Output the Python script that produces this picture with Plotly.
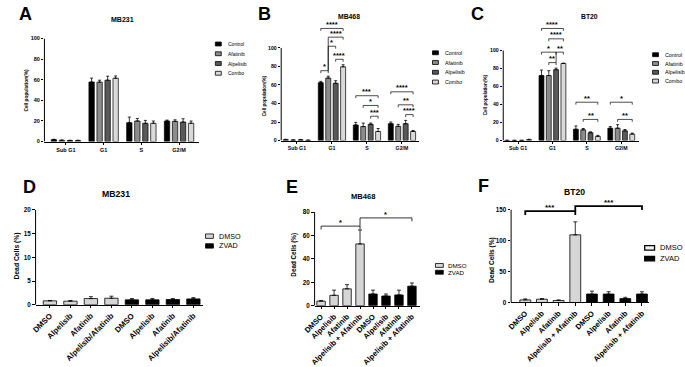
import plotly.graph_objects as go

W, H = 685, 367
FONT = "Liberation Sans, Arial, sans-serif"

# ---------------- data ----------------
phases = ["Sub G1", "G1", "S", "G2/M"]
treatments = ["Control", "Afatinib", "Alpelisib", "Combo"]

# Panel A - MB231 cell cycle
a_control = [1.8, 57.7, 18.3, 19.9]
a_control_err = [0.4, 3.8, 5.4, 0.9]
a_afatinib = [1.2, 57.6, 19.9, 19.6]
a_afatinib_err = [0.3, 1.9, 2.5, 1.5]
a_alpelisib = [1.0, 59.5, 17.7, 18.9]
a_alpelisib_err = [0.3, 3.9, 2.8, 3.2]
a_combo = [1.0, 61.4, 17.7, 17.7]
a_combo_err = [0.3, 2.2, 2.2, 2.2]

# Panel B - MB468 cell cycle
b_control = [1.0, 62.5, 16.8, 18.2]
b_control_err = [0.4, 1.4, 2.8, 1.8]
b_afatinib = [0.5, 67.4, 15.1, 15.4]
b_afatinib_err = [0.3, 2.1, 3.8, 2.1]
b_alpelisib = [0.8, 61.8, 17.5, 18.2]
b_alpelisib_err = [0.3, 2.8, 1.4, 3.6]
b_combo = [0.3, 79.6, 9.8, 9.8]
b_combo_err = [0.2, 2.2, 3.2, 1.1]
b_sig_group = [1, 1, 1, 1, 1, 2, 2, 2, 3, 3, 3]
b_sig_from = [0, 1, 2, 1, 0, 0, 1, 2, 0, 1, 2]
b_sig_to = [1, 2, 3, 3, 3, 3, 3, 3, 3, 3, 3]
b_sig_y = [75.4, 101.8, 87.7, 111.6, 121.0, 48.4, 37.9, 26.3, 52.6, 38.6, 28.0]
b_sig_label = ["*", "*", "****", "****", "****", "***", "*", "***", "****", "**", "****"]

# Panel C - BT20 cell cycle
c_control = [0.2, 72.2, 12.6, 13.7]
c_control_err = [0.1, 6.1, 3.6, 1.8]
c_afatinib = [0.2, 72.2, 11.9, 13.7]
c_afatinib_err = [0.1, 5.4, 1.5, 4.0]
c_alpelisib = [0.2, 78.7, 8.7, 10.8]
c_alpelisib_err = [0.1, 1.8, 1.0, 1.5]
c_combo = [1.0, 85.6, 4.7, 7.2]
c_combo_err = [0.4, 0.4, 1.1, 1.1]
c_sig_group = [1, 1, 1, 1, 1, 2, 2, 3, 3]
c_sig_from = [1, 0, 2, 1, 0, 0, 1, 0, 1]
c_sig_to = [2, 2, 3, 3, 3, 3, 3, 3, 3]
c_sig_y = [86.6, 98.2, 98.2, 113.0, 124.5, 42.6, 23.5, 42.6, 23.5]
c_sig_label = ["**", "*", "**", "****", "****", "**", "**", "*", "**"]

# Panel D - MB231 dead cells
d_labels = ["DMSO", "Alpelisib", "Afatinib", "Alpelisib/Afatinib",
            "DMSO", "Alpelisib", "Afatinib", "Alpelisib/Afatinib"]
d_dmso = [0.82, 0.75, 1.3, 1.37]
d_dmso_err = [0.08, 0.15, 0.4, 0.43]
d_zvad = [1.03, 1.03, 1.1, 1.23]
d_zvad_err = [0.27, 0.27, 0.2, 0.27]

# Panel E - MB468 dead cells
e_labels = ["DMSO", "Alpelisib", "Afatinib", "Alpelisib + Afatinib",
            "DMSO", "Alpelisib", "Afatinib", "Alpelisib + Afatinib"]
e_dmso = [3.9, 8.9, 14.4, 52.8]
e_dmso_err = [0.5, 4.4, 3.6, 11.9]
e_zvad = [10.0, 8.3, 9.2, 16.7]
e_zvad_err = [3.3, 1.7, 4.1, 2.7]
e_sig_from = [0, 3]
e_sig_to = [3, 7]
e_sig_y = [68.0, 75.0]
e_sig_label = ["*", "*"]

# Panel F - BT20 dead cells
f_labels = e_labels
f_dmso = [4.2, 5.3, 3.2, 109.5]
f_dmso_err = [1.6, 1.0, 1.0, 21.0]
f_zvad = [13.7, 13.7, 6.3, 13.7]
f_zvad_err = [4.7, 3.7, 2.1, 3.7]
f_sig_from = [0, 3]
f_sig_to = [3, 7]
f_sig_y = [148.0, 156.0]
f_sig_label = ["***", "***"]

# ---------------- style ----------------
cc_colors = ["#000000", "#8c8c8c", "#595959", "#d9d9d9"]
dmso_color = "#d6d6d6"
zvad_color = "#000000"
BARGAP = 0.15
BARGROUPGAP = 0.33


def px_x(p):
    return p / W


def px_y(p):
    return 1 - p / H


fig = go.Figure()
shapes = []
annotations = []
layout = {}


def add_axes(i, x0px, x1px, y0px, ytick_px, ytick_val, ytop, xrange, tickvals,
             ticktext, yticks, tfs, xtfs, tickangle=0):
    ppu = (y0px - ytick_px) / ytick_val
    ytop_px = y0px - ytop * ppu
    xn = "xaxis" if i == 1 else f"xaxis{i}"
    yn = "yaxis" if i == 1 else f"yaxis{i}"
    xr = "x" if i == 1 else f"x{i}"
    yr = "y" if i == 1 else f"y{i}"
    layout[xn] = dict(domain=[px_x(x0px), px_x(x1px)], anchor=yr, range=xrange,
                      tickvals=tickvals, ticktext=ticktext, tickangle=tickangle,
                      showline=True, linecolor="black", linewidth=1,
                      ticks="outside", ticklen=2.5, tickwidth=0.8, tickcolor="black",
                      tickfont=dict(size=xtfs, family=FONT, color="black", weight="bold"),
                      showgrid=False, zeroline=False, fixedrange=True)
    layout[yn] = dict(domain=[px_y(y0px), px_y(ytop_px)], anchor=xr, range=[0, ytop],
                      tickvals=yticks, showline=False,
                      ticks="outside", ticklen=2.5, tickwidth=0.8, tickcolor="black",
                      tickfont=dict(size=tfs, family=FONT, color="black", weight="bold"),
                      showgrid=False, zeroline=False, fixedrange=True)
    shapes.append(dict(type="line", xref=f"{xr} domain", yref=yr, x0=0, x1=0,
                       y0=0, y1=ytick_val, line=dict(color="black", width=1)))
    return xr, yr, ppu


def bar_center(group, k, n=4):
    slot = (1 - BARGAP) / n
    return group - (1 - BARGAP) / 2 + slot * (k + 0.5)


def add_brackets(xr, yr, ppu, xs_from, xs_to, ys, labels, lw, fs, tick_px=3.0):
    for j in range(len(ys)):
        xa, xb, y = xs_from[j], xs_to[j], ys[j]
        left_bottom = y - tick_px / ppu
        right_bottom = y - tick_px / ppu
        for m in range(len(ys)):
            if m != j and ys[m] < y and abs(xs_to[m] - xa) < 1e-6:
                left_bottom = min(left_bottom, ys[m])
        path = f"M{xa},{left_bottom} L{xa},{y} L{xb},{y} L{xb},{right_bottom}"
        shapes.append(dict(type="path", xref=xr, yref=yr, path=path,
                           line=dict(color="black", width=lw)))
        annotations.append(dict(xref=xr, yref=yr, x=(xa + xb) / 2, y=y, text=labels[j],
                                showarrow=False, yanchor="bottom", yshift=-0.35 * fs,
                                font=dict(size=fs, family=FONT, color="black",
                                          weight="bold")))


def text(xpx, ypx, s, size, bold=True, angle=0, xanchor="center", yanchor="middle"):
    annotations.append(dict(xref="paper", yref="paper", x=px_x(xpx), y=px_y(ypx),
                            text=s, showarrow=False, textangle=angle,
                            xanchor=xanchor, yanchor=yanchor,
                            font=dict(size=size, family=FONT, color="black",
                                      weight="bold" if bold else "normal")))


def legend(xpx, ys_px, names, colors, sw, sh, fs, lw=0.8, text_dx=5):
    for name, col, y in zip(names, colors, ys_px):
        shapes.append(dict(type="rect", xref="paper", yref="paper",
                           x0=px_x(xpx), x1=px_x(xpx + sw),
                           y0=px_y(y + sh / 2), y1=px_y(y - sh / 2),
                           fillcolor=col, line=dict(color="black", width=lw)))
        text(xpx + sw + text_dx, y, name, fs, bold=False, xanchor="left")


def cell_cycle_panel(i, x0px, x1px, y0px, ytop_tick_px, ytop, xrange, series, errs, tfs):
    xr, yr, ppu = add_axes(i, x0px, x1px, y0px, ytop_tick_px, 100, ytop, xrange,
                           [0, 1, 2, 3], phases, [0, 20, 40, 60, 80, 100], tfs, tfs)
    for k in range(4):
        fig.add_trace(go.Bar(
            x=[0, 1, 2, 3], y=series[k], name=treatments[k], xaxis=xr, yaxis=yr,
            marker=dict(color=cc_colors[k], line=dict(color="black", width=0.7)),
            error_y=dict(type="data", array=errs[k], arrayminus=[0] * 4, symmetric=False,
                         color="black", thickness=0.8, width=1.5),
            showlegend=False))
    return xr, yr, ppu


def dead_panel(i, x0px, x1px, y0px, ytick_px, ytick_val, ytop, xrange, labels, yticks,
               dmso, dmso_err, zvad, zvad_err, tfs, xtfs):
    xr, yr, ppu = add_axes(i, x0px, x1px, y0px, ytick_px, ytick_val, ytop, xrange,
                           list(range(8)), labels, yticks, tfs, xtfs, tickangle=-45)
    for vals, err, col, xs in ((dmso, dmso_err, dmso_color, [0, 1, 2, 3]),
                               (zvad, zvad_err, zvad_color, [4, 5, 6, 7])):
        fig.add_trace(go.Bar(
            x=xs, y=vals, xaxis=xr, yaxis=yr, width=0.65, offset=-0.325,
            marker=dict(color=col, line=dict(color="black", width=0.8)),
            error_y=dict(type="data", array=err, arrayminus=[0] * 4, symmetric=False,
                         color="black", thickness=0.8, width=2),
            showlegend=False))
    return xr, yr, ppu


# ---- A ----
cell_cycle_panel(1, 33, 190, 141, 35.3, 100, [-0.57, 3.52],
                 [a_control, a_afatinib, a_alpelisib, a_combo],
                 [a_control_err, a_afatinib_err, a_alpelisib_err, a_combo_err], 5.5)
text(14, 10, "A", 18)
text(112, 16, "MB231", 7)
text(15, 88, "Cell population(%)", 4.8, angle=-90)
legend(207, [41, 51, 61, 71], treatments, cc_colors, 6, 4, 5)

# ---- B ----
xr, yr, ppu = cell_cycle_panel(2, 274, 414, 140, 45, 128, [-0.45, 3.48],
                               [b_control, b_afatinib, b_alpelisib, b_combo],
                               [b_control_err, b_afatinib_err, b_alpelisib_err, b_combo_err], 5.2)
add_brackets(xr, yr, ppu,
             [bar_center(g, a) for g, a in zip(b_sig_group, b_sig_from)],
             [bar_center(g, b) for g, b in zip(b_sig_group, b_sig_to)],
             b_sig_y, b_sig_label, 0.7, 7.5, tick_px=2.5)
text(257, 10, "B", 18)
text(343, 13, "MB468", 6.8)
text(257, 94, "Cell population(%)", 4.6, angle=-90)
legend(428, [50, 60, 70, 80], treatments, cc_colors, 6, 4, 5.3)

# ---- C ----
xr, yr, ppu = cell_cycle_panel(3, 500, 638, 140, 47.7, 130, [-0.43, 3.51],
                               [c_control, c_afatinib, c_alpelisib, c_combo],
                               [c_control_err, c_afatinib_err, c_alpelisib_err, c_combo_err], 5.2)
add_brackets(xr, yr, ppu,
             [bar_center(g, a) for g, a in zip(c_sig_group, c_sig_from)],
             [bar_center(g, b) for g, b in zip(c_sig_group, c_sig_to)],
             c_sig_y, c_sig_label, 0.7, 7.5, tick_px=2.5)
text(474, 10, "C", 18)
text(588, 13, "BT20", 6.8)
text(482, 93, "Cell population(%)", 4.6, angle=-90)
legend(652, [52, 61, 70, 79], treatments, cc_colors, 6, 4, 5.3)

# ---- D ----
dead_panel(4, 24, 194, 308.3, 211, 20, 20, [-0.7, 7.45], d_labels, [0, 5, 10, 15, 20],
           d_dmso, d_dmso_err, d_zvad, d_zvad_err, 6.3, 7.8)
text(18, 188, "D", 18)
text(106, 195, "MB231", 8.7)
text(5, 258, "Dead Cells (%)", 6.8, angle=-90)
legend(197, [238, 248], ["DMSO", "ZVAD"], [dmso_color, zvad_color], 8, 4.5, 7.2, text_dx=4)

# ---- E ----
xr, yr, ppu = dead_panel(5, 308, 415, 309.3, 213.3, 80, 80, [-0.5, 7.6], e_labels,
                         [0, 20, 40, 60, 80], e_dmso, e_dmso_err, e_zvad, e_zvad_err, 6.3, 7.6)
add_brackets(xr, yr, ppu, e_sig_from, e_sig_to, e_sig_y, e_sig_label, 0.8, 7.5, tick_px=3.5)
text(285, 188, "E", 18)
text(357, 197, "MB468", 7.6)
text(287, 257, "Dead Cells (%)", 6.3, angle=-90)
legend(431, [268, 275], ["DMSO", "ZVAD"], [dmso_color, zvad_color], 8, 4, 6.2, text_dx=3)

# ---- F ----
xr, yr, ppu = dead_panel(6, 508, 648, 306, 211, 150, 162, [-0.85, 7.4], f_labels,
                         [0, 50, 100, 150], f_dmso, f_dmso_err, f_zvad, f_zvad_err, 6.3, 7.6)
add_brackets(xr, yr, ppu, f_sig_from, f_sig_to, f_sig_y, f_sig_label, 1.8, 8, tick_px=4)
text(480, 187, "F", 18)
text(573, 193, "BT20", 8.6)
text(488, 262, "Dead Cells (%)", 6.6, angle=-90)
legend(644, [250, 261], ["DMSO", "ZVAD"], ["#f2f2f2", zvad_color], 10, 4.5, 7.5, lw=1.3, text_dx=4)

fig.update_layout(
    width=W, height=H, margin=dict(l=0, r=0, t=0, b=0),
    paper_bgcolor="white", plot_bgcolor="white",
    barmode="group", bargap=BARGAP, bargroupgap=BARGROUPGAP,
    showlegend=False, font=dict(family=FONT, color="black"),
    shapes=shapes, annotations=annotations, **layout)

fig.write_html("out.html", config={"displayModeBar": False},
               post_script="document.body.style.margin='0';document.body.style.overflow='hidden';")
